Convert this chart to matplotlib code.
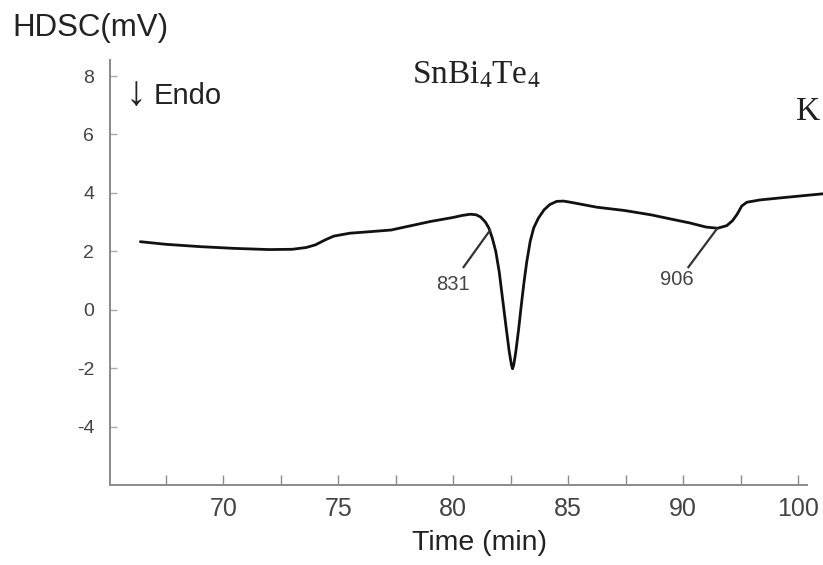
import matplotlib
matplotlib.use("Agg")
import matplotlib.pyplot as plt
from matplotlib import font_manager

# ---- data ----
time_min = [66.39, 67.5, 69.0, 70.5, 72.0, 73.0, 73.6, 74.0, 74.4, 74.8, 75.5, 76.5,
            77.3, 78.0, 79.0, 80.0, 80.4, 80.75, 81.0, 81.2, 81.4, 81.55, 81.7, 81.85,
            82.0, 82.15, 82.3, 82.43, 82.53, 82.58, 82.63, 82.72, 82.84, 82.96, 83.08,
            83.2, 83.35, 83.5, 83.7, 83.95, 84.2, 84.5, 84.8, 85.1, 86.25, 87.43, 88.6,
            89.5, 90.3, 91.0, 91.5, 91.9, 92.15, 92.35, 92.55, 92.77, 93.35, 94.5, 96.09]
hdsc_mv = [2.33, 2.24, 2.16, 2.10, 2.06, 2.07, 2.13, 2.22, 2.38, 2.52, 2.62, 2.68,
           2.73, 2.85, 3.02, 3.16, 3.23, 3.27, 3.25, 3.17, 3.0, 2.8, 2.45, 2.0,
           1.3, 0.35, -0.6, -1.4, -1.88, -2.02, -1.9, -1.45, -0.7, 0.15, 0.95,
           1.65, 2.35, 2.8, 3.13, 3.42, 3.6, 3.71, 3.72, 3.68, 3.51, 3.40, 3.25,
           3.10, 2.97, 2.83, 2.79, 2.88, 3.05, 3.27, 3.55, 3.68, 3.76, 3.85, 3.97]

xtick_pos = [67.5, 70, 72.5, 75, 77.5, 80, 82.5, 85, 87.5, 90, 92.5, 95]
xtick_labels = ['', '70', '', '75', '', '80', '', '85', '', '90', '', '100']
ytick_pos = [-4, -2, 0, 2, 4, 6, 8]
ytick_labels = ['-4', '-2', '0', '2', '4', '6', '8']

# annotations: label, line start (on curve), line end, label position
ann_labels = ['831', '906']
ann_start = [(81.6, 2.72), (91.47, 2.77)]
ann_end = [(80.45, 1.46), (90.23, 1.46)]
ann_text_pos = [(80.0, 0.88), (89.73, 1.04)]

# ---- fonts ----
names = {f.name for f in font_manager.fontManager.ttflist}
narrow = 'Liberation Sans Narrow' if 'Liberation Sans Narrow' in names else 'Liberation Sans'
plt.rcParams['font.family'] = ['Liberation Sans', 'DejaVu Sans']
plt.rcParams['mathtext.fontset'] = 'custom'
plt.rcParams['mathtext.rm'] = 'Liberation Serif'
plt.rcParams['mathtext.it'] = 'Liberation Serif:italic'

fig = plt.figure(figsize=(8.23, 5.65), dpi=100)
ax = fig.add_axes([0.1331, 0.1416, 0.9806 - 0.1331, 0.8938 - 0.1416])

ax.plot(time_min, hdsc_mv, color='#111111', lw=2.0, clip_on=False,
        solid_joinstyle='round', solid_capstyle='round')

for lab, s, e, tp in zip(ann_labels, ann_start, ann_end, ann_text_pos):
    ax.plot([s[0], e[0]], [s[1], e[1]], color='#333333', lw=1.6)
    ax.text(tp[0], tp[1], lab, ha='center', va='center', fontsize=14.5, color='#444444')

ax.set_xlim(65.05, 95.39)
ax.set_ylim(-6.0, 8.55)

for sp in ['top', 'right']:
    ax.spines[sp].set_visible(False)
for sp in ['left', 'bottom']:
    ax.spines[sp].set_color('#8a8a8a')
    ax.spines[sp].set_linewidth(1.4)

ax.set_xticks(xtick_pos)
ax.set_xticklabels(xtick_labels, fontsize=18, color='#444444', family=[narrow, 'Liberation Sans'])
ax.set_yticks(ytick_pos)
ax.set_yticklabels(ytick_labels, fontsize=14, color='#444444')
ax.tick_params(axis='x', direction='in', length=7, width=1.0, color='#8a8a8a', pad=9)
ax.tick_params(axis='y', direction='in', length=5, width=1.0, color='#aaaaaa', pad=11)

fig.text(12 / 823, 1 - 28 / 565, 'HDSC(mV)', fontsize=22.5, ha='left', va='center', color='#222222')
fig.text(480 / 823, 1 - 543 / 565, 'Time (min)', fontsize=20.5, ha='center', va='center', color='#222222')
fig.text(136 / 823, 1 - 94 / 565, '↓', fontsize=30, ha='center', va='center', color='#222222',
         family=['Liberation Sans', 'DejaVu Sans'])
fig.text(154 / 823, 1 - 96 / 565, 'Endo', fontsize=21, ha='left', va='center', color='#222222')
fig.text(476 / 823, 1 - 75 / 565, r'$\mathrm{SnBi_4Te_4}$', fontsize=24, ha='center', va='center', color='#222222')
fig.text(808 / 823, 1 - 111 / 565, r'$\mathrm{K}$', fontsize=24, ha='center', va='center', color='#222222')

fig.savefig('out.png', dpi=100, facecolor='white')
